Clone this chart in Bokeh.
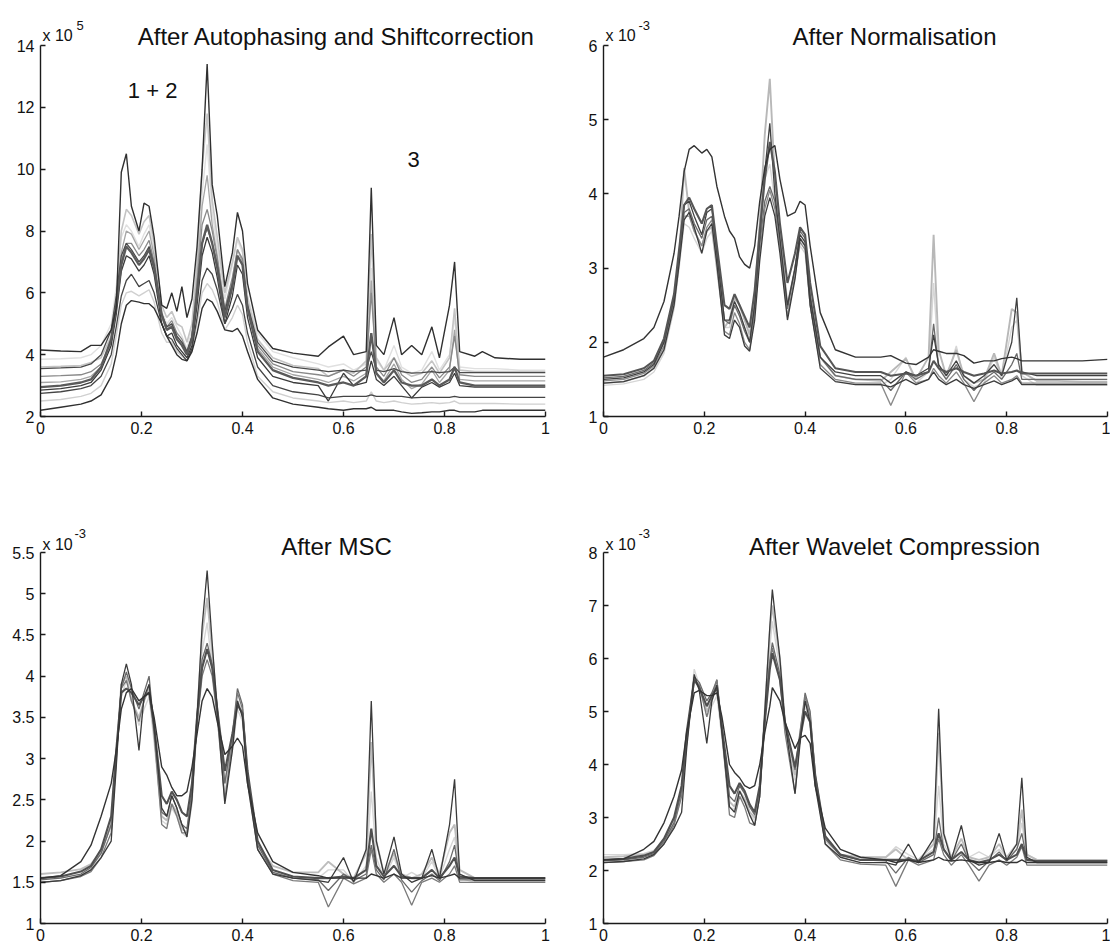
from bokeh.plotting import figure
from bokeh.layouts import column, row
from bokeh.models import Range1d, Label, FixedTicker, PrintfTickFormatter
from bokeh.embed import file_html
from bokeh.resources import INLINE

# ---------------- data ----------------
x_main = [0, 0.04, 0.08, 0.1, 0.12, 0.14, 0.15, 0.16, 0.17, 0.18,
          0.195, 0.205, 0.215, 0.225, 0.24, 0.25, 0.26, 0.27, 0.28, 0.29,
          0.3, 0.31, 0.32, 0.33, 0.34, 0.35, 0.365, 0.38, 0.39, 0.4,
          0.41, 0.43, 0.46, 0.5, 0.55, 0.57, 0.6, 0.62, 0.645, 0.655,
          0.665, 0.68, 0.7, 0.715, 0.735, 0.755, 0.775, 0.79, 0.81, 0.82,
          0.83, 0.86, 0.875, 0.9, 0.95, 1.0]

x_wav = [0, 0.04, 0.08, 0.1, 0.12, 0.14, 0.155, 0.165, 0.18, 0.19,
         0.205, 0.215, 0.225, 0.235, 0.25, 0.26, 0.27, 0.28, 0.29, 0.3,
         0.31, 0.32, 0.33, 0.335, 0.35, 0.36, 0.38, 0.39, 0.4, 0.41,
         0.42, 0.44, 0.47, 0.51, 0.56, 0.58, 0.605, 0.625, 0.655, 0.665,
         0.675, 0.69, 0.71, 0.725, 0.745, 0.765, 0.785, 0.8, 0.82, 0.83,
         0.84, 0.86, 0.88, 0.9, 0.95, 1.0]

# Panel 1: After Autophasing and Shiftcorrection (x 10^5)
raw_1 = [4.15, 4.12, 4.1, 4.3, 4.3, 4.8, 5.5, 9.9, 10.5, 8.8,
         8.0, 8.9, 8.8, 7.8, 5.6, 5.5, 6.0, 5.4, 6.2, 5.2,
         5.8, 7.5, 10.0, 13.4, 9.5, 8.5, 6.2, 7.3, 8.6, 8.0,
         6.3, 4.8, 4.2, 4.05, 3.95, 4.25, 4.6, 4.0, 4.1, 9.4,
         4.3, 4.0, 5.2, 4.0, 4.3, 4.0, 4.9, 3.9, 5.6, 7.0,
         4.1, 3.95, 4.1, 3.9, 3.85, 3.85]
raw_2 = [2.2, 2.3, 2.4, 2.5, 2.7, 3.3, 4.0, 5.0, 5.6, 5.75,
         5.7, 5.65, 5.65, 5.5, 5.0, 4.6, 4.3, 4.0, 3.85, 3.8,
         4.1, 4.7, 5.5, 5.8, 5.7, 5.4, 4.8, 4.75, 4.85, 4.6,
         4.1, 3.2, 2.6, 2.4, 2.3, 2.25, 2.2, 2.25, 2.25, 2.3,
         2.2, 2.2, 2.2, 2.15, 2.1, 2.12, 2.15, 2.15, 2.2, 2.2,
         2.15, 2.15, 2.2, 2.2, 2.2, 2.2]
raw_3 = [2.75, 2.8, 2.9, 3.0, 3.3, 4.0, 4.9, 5.9, 6.4, 6.6,
         6.2, 6.3, 6.4, 6.0, 5.0, 4.6, 4.5, 4.2, 4.0, 3.8,
         4.2, 5.2, 6.4, 6.8, 6.6, 6.1, 5.0, 5.5, 5.95, 5.6,
         4.7, 3.6, 3.0, 2.8, 2.7, 2.6, 2.65, 2.65, 2.65, 2.7,
         2.65, 2.65, 2.65, 2.65, 2.6, 2.62, 2.62, 2.62, 2.62, 2.65,
         2.62, 2.62, 2.62, 2.62, 2.62, 2.62]
raw_4 = [2.95, 3.0, 3.1, 3.2, 3.6, 4.5, 5.6, 6.9, 7.5, 7.3,
         6.9, 7.1, 7.4, 6.8, 5.3, 4.8, 4.9, 4.5, 4.3, 4.0,
         4.5, 6.0, 7.6, 8.2, 7.6, 6.8, 5.2, 6.2, 7.2, 6.9,
         5.5, 4.1, 3.5, 3.25, 3.1, 3.0, 3.1, 3.0, 3.3, 4.7,
         3.4, 3.1, 3.5, 3.1, 3.0, 3.0, 3.2, 3.0, 3.2, 3.6,
         3.1, 3.0, 3.0, 3.0, 3.0, 3.0]
raw_5 = [3.6, 3.62, 3.65, 3.75, 3.9, 4.6, 5.8, 8.0, 8.7, 8.5,
         7.9, 8.3, 8.5, 7.6, 5.6, 5.2, 5.4, 5.0, 4.9, 4.4,
         5.0, 7.0, 10.0, 11.8, 9.0, 7.8, 6.0, 7.0, 7.8, 7.4,
         5.8, 4.5, 3.9, 3.65, 3.55, 3.3, 3.5, 3.4, 3.8, 7.9,
         3.9, 3.5, 3.9, 3.5, 3.3, 3.4, 3.8, 3.4, 3.9, 5.5,
         3.5, 3.45, 3.45, 3.45, 3.45, 3.45]
raw_6 = [3.85, 3.87, 3.9, 4.0, 4.3, 5.0, 6.2, 7.8, 8.2, 8.0,
         7.5, 7.9, 8.2, 7.4, 5.4, 5.0, 5.2, 4.9, 4.6, 4.2,
         4.8, 6.6, 9.2, 10.8, 8.6, 7.5, 5.8, 6.9, 7.7, 7.3,
         5.9, 4.7, 4.1, 3.9, 3.7, 3.6, 3.7, 3.5, 3.7, 6.8,
         3.8, 3.5, 4.3, 3.6, 3.4, 3.5, 4.1, 3.5, 4.0, 5.2,
         3.6, 3.55, 3.55, 3.55, 3.5, 3.5]
raw_7 = [3.3, 3.32, 3.35, 3.45, 3.7, 4.4, 5.5, 7.0, 7.6, 7.6,
         7.2, 7.4, 7.7, 7.0, 5.3, 4.9, 5.1, 4.7, 4.5, 4.1,
         4.6, 6.3, 8.2, 8.7, 8.0, 7.1, 5.5, 6.5, 7.4, 7.1,
         5.6, 4.3, 3.7, 3.45, 3.35, 3.3, 3.5, 3.3, 3.6, 6.0,
         3.6, 3.3, 3.9, 3.35, 3.1, 3.2, 3.6, 3.25, 3.6, 4.6,
         3.35, 3.3, 3.3, 3.3, 3.3, 3.3]
raw_8 = [2.85, 2.9, 3.0, 3.1, 3.5, 4.3, 5.3, 6.7, 7.2, 7.1,
         6.7, 6.9, 7.2, 6.6, 5.0, 4.6, 4.7, 4.3, 4.1, 3.9,
         4.3, 5.6, 7.2, 7.8, 7.3, 6.5, 5.0, 5.9, 6.9, 6.6,
         5.2, 3.9, 3.3, 3.1, 3.0, 2.5, 3.4, 3.0, 3.1, 3.8,
         3.2, 3.0, 3.3, 3.0, 2.6, 2.95, 3.1, 2.95, 3.1, 3.4,
         3.0, 2.95, 2.95, 2.95, 2.95, 2.95]
raw_9 = [3.1, 3.12, 3.2, 3.3, 3.6, 4.4, 5.6, 7.3, 8.0, 7.9,
         7.4, 7.7, 8.0, 7.2, 5.2, 4.8, 5.0, 4.6, 4.4, 4.0,
         4.6, 6.5, 8.8, 9.8, 8.2, 7.2, 5.4, 6.4, 7.4, 7.0,
         5.5, 4.2, 3.6, 3.35, 3.2, 3.1, 3.3, 3.15, 3.4, 6.4,
         3.4, 3.15, 3.7, 3.2, 2.9, 3.05, 3.5, 3.1, 3.5, 4.8,
         3.2, 3.15, 3.15, 3.15, 3.15, 3.15]
raw_10 = [3.55, 3.57, 3.6, 3.7, 4.0, 4.8, 5.9, 7.2, 7.6, 7.4,
          7.0, 7.2, 7.5, 6.9, 5.3, 4.9, 5.0, 4.6, 4.4, 4.1,
          4.6, 6.0, 7.6, 8.1, 7.6, 6.9, 5.4, 6.3, 7.2, 6.9,
          5.6, 4.4, 3.8, 3.6, 3.5, 3.45, 3.5, 3.45, 3.5, 4.1,
          3.5, 3.45, 3.55, 3.45, 3.4, 3.42, 3.45, 3.42, 3.45, 3.6,
          3.42, 3.42, 3.42, 3.42, 3.42, 3.42]
raw_11 = [2.5, 2.55, 2.65, 2.75, 3.0, 3.7, 4.6, 5.6, 6.0, 6.05,
          5.9, 6.0, 6.1, 5.7, 4.7, 4.4, 4.4, 4.1, 3.95, 3.8,
          4.2, 5.0, 6.0, 6.3, 6.1, 5.7, 4.8, 5.2, 5.6, 5.3,
          4.4, 3.3, 2.8, 2.6, 2.5, 2.45, 2.5, 2.45, 2.5, 2.8,
          2.5, 2.45, 2.5, 2.45, 2.4, 2.42, 2.45, 2.42, 2.45, 2.5,
          2.42, 2.42, 2.42, 2.42, 2.4, 2.4]

# Panel 2: After Normalisation (x 10^-3)
norm_1 = [1.8, 1.9, 2.05, 2.2, 2.55, 3.2, 3.7, 4.3, 4.6, 4.65,
          4.55, 4.6, 4.5, 4.1, 3.7, 3.5, 3.4, 3.15, 3.05, 3.0,
          3.3, 3.9, 4.35, 4.6, 4.65, 4.2, 3.7, 3.75, 3.9, 3.85,
          3.3, 2.4, 1.9, 1.8, 1.8, 1.82, 1.72, 1.7, 1.8, 1.9,
          1.88, 1.85, 1.85, 1.82, 1.72, 1.75, 1.75, 1.78, 1.8, 1.78,
          1.75, 1.75, 1.75, 1.75, 1.75, 1.77]
norm_2 = [1.45, 1.47, 1.55, 1.65, 1.9, 2.5, 3.1, 4.35, 3.75, 3.5,
          3.3, 3.5, 3.55, 3.0, 2.2, 2.3, 2.6, 2.5, 2.3, 2.1,
          2.6, 3.6, 4.8, 5.55, 4.2, 3.5, 2.5, 3.0, 3.4, 3.3,
          2.6, 1.8, 1.55, 1.5, 1.48, 1.6, 1.78, 1.5, 1.8, 3.45,
          1.9, 1.55, 1.9, 1.55, 1.45, 1.5, 1.85, 1.55, 2.45, 2.4,
          1.6, 1.48, 1.48, 1.48, 1.47, 1.47]
norm_3 = [1.5, 1.52, 1.6, 1.7, 2.0, 2.6, 3.2, 3.85, 3.9, 3.7,
          3.45, 3.75, 3.8, 3.2, 2.3, 2.3, 2.55, 2.4, 2.2, 2.0,
          2.5, 3.4, 4.3, 4.95, 4.0, 3.4, 2.5, 3.0, 3.45, 3.35,
          2.6, 1.8, 1.6, 1.55, 1.55, 1.45, 1.6, 1.55, 1.65, 2.1,
          1.7, 1.55, 1.75, 1.55, 1.45, 1.55, 1.7, 1.55, 2.0, 2.6,
          1.6, 1.55, 1.55, 1.55, 1.55, 1.55]
norm_4 = [1.55, 1.57, 1.65, 1.75, 2.05, 2.65, 3.25, 3.85, 3.95, 3.8,
          3.6, 3.8, 3.85, 3.3, 2.5, 2.45, 2.65, 2.5, 2.35, 2.2,
          2.7, 3.5, 4.2, 4.7, 4.3, 3.6, 2.8, 3.2, 3.55, 3.45,
          2.8, 1.95, 1.65, 1.6, 1.6, 1.55, 1.58, 1.55, 1.6, 1.75,
          1.65, 1.6, 1.65, 1.6, 1.55, 1.58, 1.62, 1.58, 1.6, 1.62,
          1.58, 1.58, 1.58, 1.58, 1.58, 1.58]
norm_5 = [1.48, 1.5, 1.58, 1.68, 1.95, 2.55, 3.1, 3.7, 3.7, 3.5,
          3.3, 3.55, 3.65, 3.1, 2.15, 2.1, 2.4, 2.25, 2.0, 1.9,
          2.4, 3.2, 3.8, 4.05, 3.8, 3.3, 2.35, 2.9, 3.35, 3.25,
          2.5, 1.7, 1.5, 1.45, 1.45, 1.15, 1.6, 1.45, 1.5, 1.65,
          1.55, 1.45, 1.6, 1.45, 1.2, 1.45, 1.55, 1.45, 1.5, 1.55,
          1.45, 1.45, 1.45, 1.45, 1.45, 1.45]
norm_6 = [1.42, 1.44, 1.5, 1.6, 1.85, 2.45, 3.0, 3.6, 3.55, 3.4,
          3.2, 3.4, 3.5, 3.0, 2.2, 2.2, 2.5, 2.4, 2.2, 2.05,
          2.5, 3.3, 4.2, 4.4, 3.9, 3.3, 2.45, 2.9, 3.3, 3.2,
          2.5, 1.7, 1.48, 1.43, 1.42, 1.5, 1.8, 1.45, 1.6, 2.8,
          1.7, 1.5, 1.95, 1.5, 1.4, 1.45, 1.8, 1.5, 2.2, 2.3,
          1.55, 1.42, 1.42, 1.42, 1.42, 1.42]
norm_7 = [1.52, 1.54, 1.62, 1.72, 2.0, 2.6, 3.15, 3.75, 3.8, 3.6,
          3.4, 3.65, 3.7, 3.2, 2.3, 2.25, 2.5, 2.35, 2.15, 2.0,
          2.5, 3.3, 3.9, 4.1, 3.9, 3.35, 2.45, 3.0, 3.5, 3.4,
          2.65, 1.8, 1.55, 1.5, 1.5, 1.35, 1.6, 1.5, 1.6, 2.25,
          1.65, 1.5, 1.7, 1.5, 1.35, 1.5, 1.6, 1.5, 1.7, 1.85,
          1.5, 1.5, 1.5, 1.5, 1.5, 1.5]
norm_8 = [1.45, 1.47, 1.55, 1.65, 1.9, 2.5, 3.05, 3.65, 3.75, 3.55,
          3.2, 3.5, 3.6, 3.05, 2.1, 2.05, 2.3, 2.2, 1.95, 1.88,
          2.3, 3.1, 3.7, 3.95, 3.7, 3.2, 2.3, 2.85, 3.4, 3.3,
          2.5, 1.65, 1.47, 1.43, 1.43, 1.4, 1.5, 1.43, 1.5, 1.6,
          1.5, 1.43, 1.5, 1.43, 1.38, 1.43, 1.48, 1.43, 1.48, 1.52,
          1.43, 1.43, 1.43, 1.43, 1.43, 1.43]

# Panel 3: After MSC (x 10^-3)
msc_1 = [1.55, 1.58, 1.75, 1.95, 2.3, 2.7, 3.1, 3.6, 3.8, 3.85,
         3.7, 3.75, 3.8, 3.5, 2.9, 2.8, 2.65, 2.55, 2.55, 2.6,
         2.9, 3.3, 3.7, 3.85, 3.75, 3.45, 3.05, 3.15, 3.25, 3.15,
         2.7, 2.1, 1.75, 1.62, 1.58, 1.55, 1.55, 1.55, 1.55, 1.6,
         1.58, 1.55, 1.6, 1.55, 1.55, 1.55, 1.58, 1.55, 1.58, 1.6,
         1.55, 1.55, 1.55, 1.55, 1.55, 1.55]
msc_2 = [1.5, 1.52, 1.58, 1.65, 1.8, 2.0, 2.9, 3.9, 4.15, 3.9,
         3.1, 3.75, 3.9, 3.4, 2.4, 2.3, 2.55, 2.4, 2.2, 2.05,
         2.5, 3.5, 4.6, 5.28, 4.4, 3.6, 2.45, 3.1, 3.7, 3.5,
         2.7, 1.9, 1.6, 1.55, 1.52, 1.5, 1.8, 1.5, 1.9, 3.7,
         2.0, 1.6, 2.05, 1.6, 1.5, 1.55, 1.9, 1.55, 2.2, 2.75,
         1.6, 1.52, 1.52, 1.52, 1.52, 1.52]
msc_3 = [1.6, 1.62, 1.66, 1.72, 1.88, 2.2, 3.0, 3.9, 4.0, 3.7,
         3.5, 3.7, 3.85, 3.3, 2.3, 2.25, 2.45, 2.35, 2.15, 2.1,
         2.55, 3.5, 4.5, 4.95, 4.3, 3.6, 2.7, 3.2, 3.7, 3.55,
         2.8, 1.95, 1.7, 1.62, 1.62, 1.75, 1.6, 1.55, 1.85, 3.2,
         2.0, 1.6, 1.85, 1.6, 1.55, 1.6, 1.8, 1.6, 2.1, 2.2,
         1.65, 1.55, 1.55, 1.55, 1.55, 1.55]
msc_4 = [1.55, 1.57, 1.63, 1.7, 1.9, 2.3, 3.1, 3.8, 3.85, 3.8,
         3.65, 3.75, 3.8, 3.4, 2.55, 2.45, 2.6, 2.5, 2.35, 2.3,
         2.7, 3.5, 4.1, 4.33, 4.1, 3.6, 2.85, 3.3, 3.65, 3.55,
         2.85, 2.0, 1.65, 1.57, 1.55, 1.55, 1.57, 1.55, 1.65, 2.15,
         1.7, 1.57, 1.7, 1.57, 1.55, 1.55, 1.65, 1.55, 1.7, 1.8,
         1.57, 1.55, 1.55, 1.55, 1.55, 1.55]
msc_5 = [1.5, 1.52, 1.57, 1.63, 1.8, 2.1, 3.0, 3.85, 3.95, 3.7,
         3.45, 3.7, 3.9, 3.3, 2.2, 2.15, 2.45, 2.3, 2.1, 2.1,
         2.55, 3.4, 4.0, 4.2, 4.0, 3.5, 2.5, 3.2, 3.8, 3.6,
         2.75, 1.9, 1.6, 1.52, 1.5, 1.2, 1.55, 1.48, 1.55, 1.9,
         1.6, 1.5, 1.6, 1.5, 1.22, 1.5, 1.55, 1.5, 1.6, 1.7,
         1.5, 1.5, 1.5, 1.5, 1.5, 1.5]
msc_6 = [1.5, 1.52, 1.58, 1.66, 1.85, 2.2, 3.0, 3.75, 3.95, 3.75,
         3.4, 3.6, 3.75, 3.2, 2.25, 2.2, 2.4, 2.3, 2.1, 2.05,
         2.45, 3.4, 4.3, 4.65, 4.1, 3.5, 2.6, 3.1, 3.6, 3.45,
         2.7, 1.9, 1.62, 1.55, 1.55, 1.65, 1.65, 1.5, 1.7, 2.6,
         1.8, 1.55, 1.8, 1.55, 1.62, 1.55, 1.75, 1.55, 1.9, 2.05,
         1.55, 1.5, 1.5, 1.5, 1.5, 1.5]
msc_7 = [1.53, 1.55, 1.6, 1.68, 1.85, 2.2, 3.05, 3.85, 4.05, 3.85,
         3.6, 3.8, 4.0, 3.35, 2.35, 2.3, 2.55, 2.4, 2.2, 2.15,
         2.6, 3.5, 4.2, 4.4, 4.15, 3.6, 2.7, 3.3, 3.85, 3.65,
         2.8, 1.95, 1.62, 1.55, 1.53, 1.4, 1.6, 1.52, 1.6, 1.95,
         1.65, 1.53, 1.9, 1.53, 1.38, 1.52, 1.6, 1.52, 1.75, 1.95,
         1.53, 1.53, 1.53, 1.53, 1.53, 1.53]

# Panel 4: After Wavelet Compression (x 10^-3)
wav_1 = [2.2, 2.22, 2.4, 2.55, 2.9, 3.4, 3.9, 4.6, 5.35, 5.4,
         5.3, 5.3, 5.35, 4.9, 4.0, 3.85, 3.75, 3.6, 3.55, 3.6,
         4.0, 4.6, 5.1, 5.45, 5.2, 4.8, 4.3, 4.5, 4.55, 4.4,
         3.6, 2.8, 2.4, 2.25, 2.2, 2.15, 2.2, 2.15, 2.2, 2.25,
         2.2, 2.18, 2.2, 2.18, 2.15, 2.15, 2.18, 2.15, 2.15, 2.2,
         2.15, 2.15, 2.15, 2.15, 2.15, 2.15]
wav_2 = [2.15, 2.17, 2.22, 2.3, 2.5, 2.8, 3.1, 4.3, 5.7, 5.4,
         4.4, 5.2, 5.5, 4.6, 3.2, 3.1, 3.5, 3.3, 3.05, 2.85,
         3.4, 5.0, 6.6, 7.3, 6.0, 4.8, 3.45, 4.4, 5.2, 4.8,
         3.6, 2.5, 2.25, 2.15, 2.15, 2.1, 2.5, 2.15, 2.6, 5.05,
         2.7, 2.2, 2.85, 2.2, 2.1, 2.15, 2.7, 2.2, 2.5, 3.75,
         2.25, 2.15, 2.15, 2.15, 2.15, 2.15]
wav_3 = [2.25, 2.27, 2.3, 2.35, 2.55, 2.9, 3.5, 4.5, 5.6, 5.5,
         5.0, 5.2, 5.5, 4.6, 3.3, 3.2, 3.5, 3.35, 3.1, 3.0,
         3.5, 5.0, 6.5, 7.0, 6.0, 4.8, 3.8, 4.6, 5.2, 4.9,
         3.8, 2.6, 2.3, 2.25, 2.25, 2.4, 2.2, 2.2, 2.5, 4.6,
         2.7, 2.25, 2.6, 2.25, 2.2, 2.25, 2.5, 2.25, 2.5, 3.15,
         2.3, 2.2, 2.2, 2.2, 2.2, 2.2]
wav_4 = [2.2, 2.22, 2.28, 2.35, 2.6, 3.0, 3.6, 4.6, 5.6, 5.45,
         5.1, 5.3, 5.45, 4.7, 3.6, 3.45, 3.65, 3.5, 3.25, 3.1,
         3.6, 4.8, 5.8, 6.1, 5.6, 4.8, 3.95, 4.5, 5.0, 4.8,
         3.8, 2.65, 2.3, 2.2, 2.2, 2.2, 2.2, 2.18, 2.35, 2.7,
         2.4, 2.2, 2.35, 2.2, 2.15, 2.2, 2.3, 2.2, 2.3, 2.5,
         2.2, 2.18, 2.18, 2.18, 2.18, 2.18]
wav_5 = [2.15, 2.17, 2.2, 2.28, 2.5, 2.85, 3.4, 4.4, 5.6, 5.5,
         4.9, 5.25, 5.6, 4.6, 3.05, 3.0, 3.4, 3.2, 2.9, 2.85,
         3.4, 4.8, 5.9, 6.2, 5.6, 4.6, 3.45, 4.5, 5.3, 4.9,
         3.7, 2.5, 2.2, 2.12, 2.1, 1.7, 2.2, 2.1, 2.2, 2.6,
         2.3, 2.1, 2.3, 2.1, 1.8, 2.1, 2.2, 2.1, 2.25, 2.45,
         2.1, 2.1, 2.1, 2.1, 2.1, 2.1]
wav_6 = [2.3, 2.3, 2.32, 2.38, 2.55, 2.9, 3.4, 4.4, 5.8, 5.5,
         4.9, 5.1, 5.3, 4.5, 3.2, 3.15, 3.4, 3.3, 3.05, 2.95,
         3.45, 4.9, 6.2, 6.7, 5.8, 4.7, 3.7, 4.5, 5.1, 4.8,
         3.7, 2.55, 2.3, 2.25, 2.25, 2.45, 2.3, 2.2, 2.4, 3.6,
         2.5, 2.25, 2.5, 2.25, 2.35, 2.25, 2.4, 2.25, 2.4, 2.9,
         2.3, 2.2, 2.2, 2.2, 2.2, 2.2]
wav_7 = [2.18, 2.2, 2.25, 2.32, 2.55, 2.9, 3.5, 4.5, 5.65, 5.55,
         5.2, 5.35, 5.6, 4.7, 3.4, 3.3, 3.6, 3.45, 3.2, 3.05,
         3.55, 4.9, 5.95, 6.3, 5.7, 4.8, 3.9, 4.6, 5.35, 5.0,
         3.8, 2.6, 2.28, 2.2, 2.18, 1.95, 2.25, 2.15, 2.3, 3.0,
         2.4, 2.18, 2.5, 2.18, 2.0, 2.18, 2.35, 2.18, 2.4, 2.7,
         2.2, 2.18, 2.18, 2.18, 2.18, 2.18]

x_ticks = [0, 0.2, 0.4, 0.6, 0.8, 1]
raw_yticks = [2, 4, 6, 8, 10, 12, 14]
norm_yticks = [1, 2, 3, 4, 5, 6]
msc_yticks = [1, 1.5, 2, 2.5, 3, 3.5, 4, 4.5, 5, 5.5]
wav_yticks = [1, 2, 3, 4, 5, 6, 7, 8]

titles = ["After Autophasing and Shiftcorrection", "After Normalisation",
          "After MSC", "After Wavelet Compression"]

# ---------------- styles (drawing order) ----------------
raw_series = [raw_6, raw_11, raw_5, raw_9, raw_7, raw_10, raw_8, raw_3, raw_4, raw_2, raw_1]
raw_colors = ["#e0e0e0", "#d0d0d0", "#c4c4c4", "#a6a6a6", "#888888", "#4a4a4a",
              "#3a3a3a", "#444444", "#5a5a5a", "#303030", "#303030"]
raw_widths = [1.4, 1.4, 1.6, 1.3, 1.3, 1.3, 1.3, 1.3, 2.3, 1.4, 1.4]

norm_series = [norm_6, norm_2, norm_7, norm_5, norm_8, norm_3, norm_4, norm_1]
norm_colors = ["#d6d6d6", "#b8b8b8", "#6a6a6a", "#8a8a8a", "#3c3c3c",
               "#404040", "#555555", "#333333"]
norm_widths = [1.4, 1.9, 1.3, 1.3, 1.3, 1.3, 2.1, 1.4]

msc_series = [msc_6, msc_3, msc_7, msc_5, msc_4, msc_2, msc_1]
msc_colors = ["#d6d6d6", "#bdbdbd", "#6a6a6a", "#7a7a7a", "#505050", "#3a3a3a", "#333333"]
msc_widths = [1.4, 1.9, 1.3, 1.3, 2.1, 1.3, 1.4]

wav_series = [wav_6, wav_3, wav_7, wav_5, wav_4, wav_2, wav_1]
wav_colors = ["#d6d6d6", "#bdbdbd", "#6a6a6a", "#7a7a7a", "#505050", "#3a3a3a", "#333333"]
wav_widths = [1.4, 1.9, 1.3, 1.3, 2.1, 1.3, 1.4]

FONT = "Liberation Sans"
AX = "#1a1a1a"
TXT = "#111111"


def make_panel(xs, series, colors, widths, yr, yticks, frame, title,
               title_px, title_up, exp_up, sup_text, sup_left, sup_up):
    # frame: (frame_width, frame_height, extra_top, b_left, b_right, b_top, b_bottom)
    fw, fh, ext, bl, br, bt, bb = frame
    ppu = fh / (yr[1] - yr[0])
    top = yr[1]
    p = figure(frame_width=fw, frame_height=fh + ext,
               x_range=Range1d(0, 1), y_range=Range1d(yr[0], top + ext / ppu),
               min_border_left=bl, min_border_right=br,
               min_border_top=bt, min_border_bottom=bb,
               output_backend="svg", toolbar_location=None,
               background_fill_color="white", border_fill_color="white")
    p.outline_line_color = None
    p.xgrid.visible = False
    p.ygrid.visible = False
    for ys, c, w in zip(series, colors, widths):
        p.line(xs, ys, line_color=c, line_width=w)

    p.xaxis.ticker = FixedTicker(ticks=x_ticks)
    p.yaxis.ticker = FixedTicker(ticks=yticks)
    p.yaxis.bounds = (yr[0], top)
    for ax in (p.xaxis[0], p.yaxis[0]):
        ax.formatter = PrintfTickFormatter(format="%g")
        ax.major_tick_in = 5
        ax.major_tick_out = 0
        ax.minor_tick_in = 0
        ax.minor_tick_out = 0
        ax.axis_line_color = AX
        ax.axis_line_width = 1.4
        ax.major_tick_line_color = AX
        ax.major_tick_line_width = 1.4
        ax.major_label_text_font = FONT
        ax.major_label_text_font_size = "16px"
        ax.major_label_text_color = TXT
    p.xaxis.major_label_standoff = 5
    p.yaxis.major_label_standoff = 6

    p.add_layout(Label(x=title_px / fw, y=top + title_up / ppu, text=title,
                       text_align="center", text_baseline="alphabetic",
                       text_font=FONT, text_font_size="24px", text_color=TXT))
    p.add_layout(Label(x=2 / fw, y=top + exp_up / ppu, text="x 10",
                       text_align="left", text_baseline="alphabetic",
                       text_font=FONT, text_font_size="16px", text_color=TXT))
    p.add_layout(Label(x=sup_left / fw, y=top + sup_up / ppu, text=sup_text,
                       text_align="left", text_baseline="alphabetic",
                       text_font=FONT, text_font_size="13px", text_color=TXT))
    return p


# top row: frame 45..416 (page), text area above from 12
p1 = make_panel(x_main, raw_series, raw_colors, raw_widths, (2, 14), raw_yticks,
                (505, 371, 33, 40, 15, 12, 54), titles[0], 296, 9, 10, "5", 36, 20)
p1.add_layout(Label(x=0.222, y=12.55, text="1 + 2", text_align="center",
                    text_baseline="middle", text_font=FONT, text_font_size="22px",
                    text_color=TXT))
p1.add_layout(Label(x=0.739, y=10.3, text="3", text_align="center",
                    text_baseline="middle", text_font=FONT, text_font_size="22px",
                    text_color=TXT))

p2 = make_panel(x_main, norm_series, norm_colors, norm_widths, (1, 6), norm_yticks,
                (504, 371, 33, 43, 3, 12, 54), titles[1], 291, 9, 10, "-3", 35, 20)

# bottom row: starts at 470, frame 552..923, text area above from 518
p3 = make_panel(x_main, msc_series, msc_colors, msc_widths, (1, 5.5), msc_yticks,
                (505, 371, 34, 40, 15, 48, 23), titles[2], 296, 6, 8, "-3", 34, 19)

p4 = make_panel(x_wav, wav_series, wav_colors, wav_widths, (1, 8), wav_yticks,
                (504, 371, 34, 43, 3, 48, 23), titles[3], 291, 6, 8, "-3", 35, 19)

layout = column(row(p1, p2), row(p3, p4))

open("out.html", "w").write(file_html(layout, INLINE))
